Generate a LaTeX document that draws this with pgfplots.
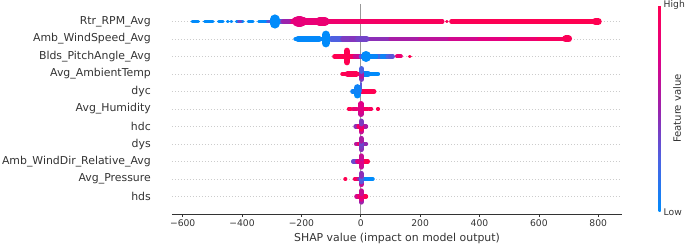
\documentclass[border=0pt]{standalone}
\usepackage{fontspec}
\setmainfont{DejaVu Sans}
\usepackage{pgfplots}
\pgfplotsset{compat=1.18}
\definecolor{c333}{HTML}{333333}
\definecolor{gridc}{HTML}{CCCCCC}
\definecolor{zeroc}{HTML}{999999}
\definecolor{blueS}{RGB}{0,139,251}
\definecolor{redS}{RGB}{255,0,81}
\pgfplotsset{
  seg/.style={mesh, point meta=explicit, line width=#1, line cap=round, forget plot},
}
\begin{document}
\begin{tikzpicture}
\useasboundingbox (-172bp,-30bp) rectangle (513bp,214bp);
\begin{axis}[
  scale only axis, width=450bp, height=210bp,
  xmin=-636, xmax=880, ymin=-1, ymax=11,
  colormap={shap}{rgb255=(0,139,251) rgb255=(75,99,227) rgb255=(156,34,172) rgb255=(224,0,134) rgb255=(255,0,81)},
  point meta min=0, point meta max=1,
  axis x line*=bottom, axis y line*=left,
  y axis line style={draw=none},
  x axis line style={c333, line width=0.8bp, -},
  xtick={-600,-400,-200,0,200,400,600,800},
  xticklabels={−600,−400,−200,0,200,400,600,800},
  ytick={0,...,10},
  yticklabels={hds, Avg\_Pressure, Amb\_WindDir\_Relative\_Avg, dys, hdc, Avg\_Humidity, dyc, Avg\_AmbientTemp, Blds\_PitchAngle\_Avg, Amb\_WindSpeed\_Avg, Rtr\_RPM\_Avg},
  ymajorgrids, grid style={gridc, line width=0.5bp, dash pattern=on 0.6bp off 2.4bp},
  ytick style={draw=none},
  xtick style={c333, line width=0.7bp},
  tick align=outside, major tick length=3bp,
  xticklabel style={font=\fontsize{9.2bp}{11bp}\selectfont, text=c333, inner sep=0pt, anchor=north, yshift=-2.6bp},
  yticklabel style={font=\fontsize{10.9bp}{13bp}\selectfont, text=c333, inner sep=0pt, anchor=east, xshift=-18bp},
  xlabel={SHAP value (impact on model output)},
  xlabel style={font=\fontsize{10.9bp}{13bp}\selectfont, text=c333, at={(axis description cs:0.5,0)}, anchor=base, yshift=-27bp},
  colorbar,
  colorbar style={
    at={(parent axis.north east)}, anchor=north west, xshift=28bp, yshift=-1bp,
    scale only axis, width=2bp, height=207bp,
    axis line style={draw=none},
    ytick={0,1}, yticklabels={Low,High},
    ytick style={draw=none},
    yticklabel style={font=\fontsize{9.2bp}{11bp}\selectfont, text=c333, inner sep=0pt, anchor=west, xshift=3bp},
    yticklabel pos=right,
    ylabel={Feature value},
    ylabel style={font=\fontsize{10.1bp}{12bp}\selectfont, text=c333, inner sep=0pt, at={(axis description cs:1,0.5)}, anchor=center, yshift=-16.5bp},
  },
]
\addplot[zeroc, line width=0.9bp, forget plot] coordinates {(0,-1) (0,11)};
% Rtr_RPM_Avg (10)
\addplot[blueS, line width=3.4bp, line cap=round, unbounded coords=jump, forget plot] coordinates {(-568,10) (-547,10) (-540,nan) (-526,10) (-498,10) (-490,nan) (-479,10) (-464,10) (-455,nan) (-449,10) (-447,10) (-442,nan) (-437,10) (-435,10) (-430,nan) (-419,10) (-397,10) (-389,nan) (-379,10) (-363,10) (-354,nan) (-344,10) (-300,10)};
\addplot[seg=3.4bp] coordinates {(-412,10)[0.35] (-404,10)[0.35]};
\addplot[seg=3.4bp] coordinates {(-314,10)[0.3] (-304,10)[0.3]};
\addplot[seg=4.2bp] coordinates {(-290,10)[0] (-280,10)[0.1] (-270,10)[0.25] (-260,10)[0.4] (-250,10)[0.55] (-240,10)[0.68] (-230,10)[0.78] (-200,10)[0.8] (-170,10)[0.82] (-140,10)[0.84] (-100,10)[0.86] (-50,10)[0.88] (0,10)[0.9] (50,10)[0.91] (100,10)[0.92] (150,10)[0.94] (200,10)[0.95] (275,10)[0.96]};
\addplot[seg=3bp] coordinates {(289,10)[0.97] (291,10)[0.97]};
\addplot[seg=4.2bp] coordinates {(305,10)[0.97] (400,10)[0.98] (500,10)[0.99] (600,10)[0.99] (700,10)[1] (800,10)[1]};
\addplot[seg=5.5bp] coordinates {(-275,10)[0.2] (-260,10)[0.4] (-245,10)[0.6]};
\addplot[seg=8bp] coordinates {(-220,10)[0.78] (-205,10)[0.8] (-192,10)[0.8]};
\addplot[seg=11bp] coordinates {(-212,10)[0.8] (-202,10)[0.8]};
\addplot[seg=6.5bp] coordinates {(-190,10)[0.81] (-150,10)[0.83]};
\addplot[seg=8.5bp] coordinates {(-140,10)[0.84] (-120,10)[0.84]};
\addplot[seg=5.5bp] coordinates {(-100,10)[0.86] (-50,10)[0.88] (0,10)[0.9] (40,10)[0.9]};
\addplot[seg=7bp] coordinates {(790,10)[1] (800,10)[1]};
\addplot[seg=10bp] coordinates {(-290,9.88)[0] (-290,10.12)[0]};
% Amb_WindSpeed_Avg (9)
\addplot[seg=4.2bp] coordinates {(-220,9)[0] (-130,9)[0.02] (-100,9)[0.2] (-60,9)[0.3] (0,9)[0.4] (100,9)[0.5] (200,9)[0.58] (300,9)[0.66] (400,9)[0.74] (500,9)[0.82] (600,9)[0.9] (700,9)[0.97]};
\addplot[seg=5.5bp] coordinates {(-212,9)[0] (-140,9)[0.02]};
\addplot[seg=5.5bp] coordinates {(-100,9)[0.22] (-60,9)[0.3] (-30,9)[0.5] (-10,9)[0.35] (20,9)[0.4]};
\addplot[seg=7bp] coordinates {(690,9)[0.97] (700,9)[0.97]};
\addplot[seg=8bp] coordinates {(-118,8.75)[0] (-118,9.25)[0]};
% Blds_PitchAngle_Avg (8)
\addplot[seg=5bp] coordinates {(-88,8)[1] (-45,8)[1]};
\addplot[seg=4.2bp] coordinates {(-45,8)[1] (-20,8)[0.85] (0,8)[0.5] (15,8)[0.1] (40,8)[0] (55,8)[0.05] (62,8)[0.4] (70,8)[0.1] (90,8)[0] (100,8)[0.5] (108,8)[0.1]};
\addplot[seg=5.5bp] coordinates {(20,8)[0] (50,8)[0.05]};
\addplot[seg=4bp] coordinates {(122,8)[0.8] (135,8)[0.9]};
\addplot[seg=3.5bp] coordinates {(164,8)[1] (166,8)[1]};
\addplot[seg=6.5bp] coordinates {(-47,7.68)[1] (-47,8.32)[1]};
\addplot[seg=10bp] coordinates {(18,7.97)[0] (18,8.03)[0]};
% Avg_AmbientTemp (7)
\addplot[seg=4.2bp] coordinates {(-62,7)[1] (-30,7)[1] (-10,7)[0.85] (0,7)[0.6] (10,7)[0.1] (30,7)[0] (58,7)[0]};
\addplot[seg=5.5bp] coordinates {(-45,7)[1] (-15,7)[0.95]};
\addplot[seg=5.5bp] coordinates {(6,7)[0.05] (25,7)[0]};
\addplot[seg=5bp] coordinates {(3,6.69)[0.3] (3,6.85)[0.5] (3,7)[0.7] (3,7.15)[0.4] (3,7.31)[0.1]};
% dyc (6)
\addplot[seg=4.5bp] coordinates {(-28,6)[0] (-5,6)[0.1] (5,6)[0.8] (15,6)[1] (45,6)[1]};
\addplot[seg=5.5bp] coordinates {(10,6)[1] (28,6)[1]};
\addplot[seg=2.5bp] coordinates {(0,6.0)[0.3] (0,6.48)[0.3]};
\addplot[seg=7bp] coordinates {(-12,5.8)[0] (-12,6.0)[0] (-12,6.22)[0.1]};
% Avg_Humidity (5)
\addplot[seg=3.5bp] coordinates {(-41,5)[1] (-33,5)[1]};
\addplot[seg=3.5bp] coordinates {(-27,5)[0.9] (-14,5)[0.8]};
\addplot[seg=4bp] coordinates {(-8,5)[0.7] (8,5)[0.9] (24,5)[1]};
\addplot[seg=3.5bp] coordinates {(30,5)[0.9] (36,5)[1]};
\addplot[seg=3.5bp] coordinates {(57,5)[1] (59,5)[1]};
\addplot[seg=5.5bp] coordinates {(1,4.7)[0.5] (1,4.85)[0.8] (1,5)[0.65] (1,5.15)[0.9] (1,5.3)[0.6]};
% hdc (4)
\addplot[seg=4.2bp] coordinates {(-18,4)[0] (-8,4)[0.9] (8,4)[1] (18,4)[0.1]};
\addplot[seg=5bp] coordinates {(1,3.69)[0.4] (1,3.85)[0.9] (1,4)[1] (1,4.15)[0.6] (1,4.31)[0.2]};
% dys (3)
\addplot[seg=4.2bp] coordinates {(-16,3)[0.3] (-6,3)[0.9] (6,3)[0.95] (18,3)[0]};
\addplot[seg=5bp] coordinates {(1,2.68)[0.6] (1,2.84)[0.3] (1,3)[0.5] (1,3.16)[0.2] (1,3.32)[0.9]};
% Amb_WindDir_Relative_Avg (2)
\addplot[seg=4.2bp] coordinates {(-26,2)[0.1] (-12,2)[0.6] (0,2)[0.9] (12,2)[1] (24,2)[1]};
\addplot[seg=5bp] coordinates {(1,1.68)[0.5] (1,1.84)[0.8] (1,2)[0.6] (1,2.16)[0.9] (1,2.32)[0.4]};
% Avg_Pressure (1)
\addplot[seg=3.5bp] coordinates {(-53,1)[1] (-51,1)[1]};
\addplot[seg=4.2bp] coordinates {(-20,1)[1] (-6,1)[0.9] (5,1)[0.1] (20,1)[0] (40,1)[0]};
\addplot[seg=5bp] coordinates {(1,0.68)[0.9] (1,0.84)[0.4] (1,1)[0.2] (1,1.16)[0.3] (1,1.32)[0.6]};
% hds (0)
\addplot[seg=4.2bp] coordinates {(-15,0)[0.5] (-5,0)[0.9] (5,0)[1] (18,0)[1]};
\addplot[seg=5bp] coordinates {(1,-0.32)[0.4] (1,-0.16)[0.6] (1,0)[0.9] (1,0.16)[0.8] (1,0.32)[0.5]};
\end{axis}
\end{tikzpicture}
\end{document}
